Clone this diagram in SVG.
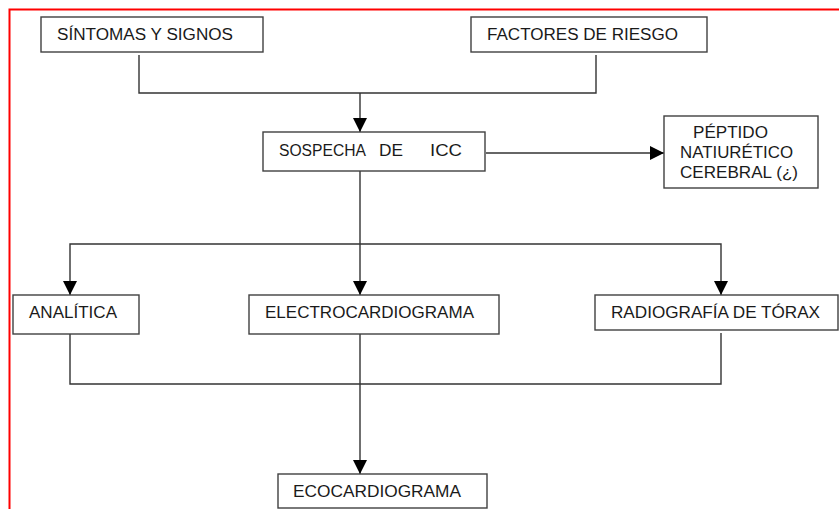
<svg xmlns="http://www.w3.org/2000/svg" width="839" height="509" viewBox="0 0 839 509">
  <style>
    .box { fill: #ffffff; stroke: #404040; stroke-width: 1.4; }
    .lbl { font-family: "Liberation Sans", Arial, sans-serif; font-size: 16px; fill: #1a1a1a; }
    .conn { fill: none; stroke: #333333; stroke-width: 1.4; }
  </style>
  <defs>
    <marker id="arrow" markerUnits="userSpaceOnUse" markerWidth="14" markerHeight="14" refX="14" refY="7" orient="auto">
      <path d="M0,0 L14,7 L0,14 Z" fill="#000000"/>
    </marker>
  </defs>

  <rect width="839" height="509" fill="#ffffff"/>
  <!-- page frame -->
  <path d="M9.5,509 V9.5 H839" fill="none" stroke="#ff0000" stroke-width="2"/>

  <g id="connectors">
    <path class="conn" d="M139,55 V93 H596 V55"/>
    <path class="conn" d="M360,93 V132" marker-end="url(#arrow)"/>
    <path class="conn" d="M486,153 H664" marker-end="url(#arrow)"/>
    <path class="conn" d="M360,171 V295" marker-end="url(#arrow)"/>
    <path class="conn" d="M360,244 H70 V295" marker-end="url(#arrow)"/>
    <path class="conn" d="M360,244 H721 V295" marker-end="url(#arrow)"/>
    <path class="conn" d="M70,334 V384 H721 V333"/>
    <path class="conn" d="M360,334 V474" marker-end="url(#arrow)"/>
  </g>

  <g id="sintomas">
    <rect class="box" x="41" y="17" width="222" height="35"/>
    <text class="lbl" x="57" y="40" textLength="176" lengthAdjust="spacingAndGlyphs">SÍNTOMAS Y SIGNOS</text>
  </g>
  <g id="factores">
    <rect class="box" x="471" y="17" width="236" height="35"/>
    <text class="lbl" x="487" y="40" textLength="191" lengthAdjust="spacingAndGlyphs">FACTORES DE RIESGO</text>
  </g>
  <g id="sospecha">
    <rect class="box" x="263" y="132" width="222" height="39"/>
    <text class="lbl" x="279" y="156" textLength="87" lengthAdjust="spacingAndGlyphs">SOSPECHA</text>
    <text class="lbl" x="379" y="156" textLength="24" lengthAdjust="spacingAndGlyphs">DE</text>
    <text class="lbl" x="430" y="156" textLength="32" lengthAdjust="spacingAndGlyphs">ICC</text>
  </g>
  <g id="peptido">
    <rect class="box" x="664" y="116" width="154" height="72"/>
    <text class="lbl" x="693" y="138" textLength="75" lengthAdjust="spacingAndGlyphs">PÉPTIDO</text>
    <text class="lbl" x="680" y="158" textLength="113" lengthAdjust="spacingAndGlyphs">NATIURÉTICO</text>
    <text class="lbl" x="680" y="178" textLength="118" lengthAdjust="spacingAndGlyphs">CEREBRAL (¿)</text>
  </g>
  <g id="analitica">
    <rect class="box" x="13" y="295" width="126" height="39"/>
    <text class="lbl" x="29" y="318" textLength="88" lengthAdjust="spacingAndGlyphs">ANALÍTICA</text>
  </g>
  <g id="electro">
    <rect class="box" x="249" y="295" width="250" height="39"/>
    <text class="lbl" x="265" y="318" textLength="209" lengthAdjust="spacingAndGlyphs">ELECTROCARDIOGRAMA</text>
  </g>
  <g id="radiografia">
    <rect class="box" x="595" y="295" width="243" height="35"/>
    <text class="lbl" x="611" y="318" textLength="209" lengthAdjust="spacingAndGlyphs">RADIOGRAFÍA DE TÓRAX</text>
  </g>
  <g id="eco">
    <rect class="box" x="278" y="474" width="209" height="34"/>
    <text class="lbl" x="293" y="497" textLength="168" lengthAdjust="spacingAndGlyphs">ECOCARDIOGRAMA</text>
  </g>
</svg>
